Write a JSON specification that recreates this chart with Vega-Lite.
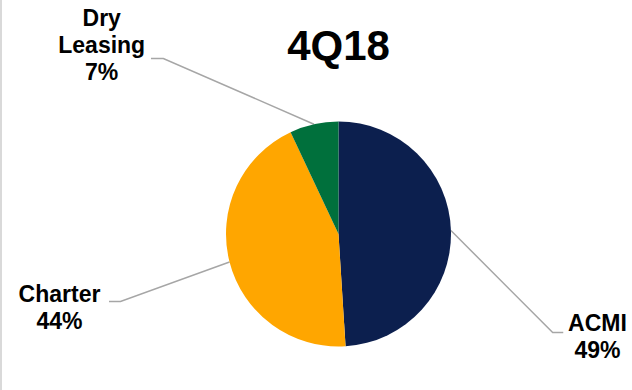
{
  "$schema": "https://vega.github.io/schema/vega-lite/v6.json",
  "autosize": {"type": "none"},
  "width": 587,
  "height": 312,
  "padding": {"left": 45, "top": 78, "right": 0, "bottom": 0},
  "background": "white",
  "config": {"view": {"stroke": null}, "font": "Liberation Sans"},
  "datasets": {
    "shares": [
      {"segment": "ACMI", "share": 49, "label": "ACMI\n49%", "lx": 2.302, "ly": -0.864},
      {"segment": "Charter", "share": 44, "label": "Charter\n44%", "lx": -2.48, "ly": -0.607},
      {"segment": "Dry Leasing", "share": 7, "label": "Dry\nLeasing\n7%", "lx": -2.105, "ly": 1.846}
    ],
    "leaders": [
      {"segment": "ACMI", "step": 1, "x": 0.9995, "y": 0.031},
      {"segment": "ACMI", "step": 2, "x": 1.904, "y": -0.876},
      {"segment": "ACMI", "step": 3, "x": 1.998, "y": -0.876},
      {"segment": "Charter", "step": 1, "x": -0.9686, "y": -0.2487},
      {"segment": "Charter", "step": 2, "x": -1.938, "y": -0.6},
      {"segment": "Charter", "step": 3, "x": -2.04, "y": -0.6},
      {"segment": "Dry Leasing", "step": 1, "x": -0.218, "y": 0.976},
      {"segment": "Dry Leasing", "step": 2, "x": -1.557, "y": 1.56},
      {"segment": "Dry Leasing", "step": 3, "x": -1.667, "y": 1.56}
    ],
    "heading": [{"title": "4Q18"}]
  },
  "layer": [
    {
      "data": {"name": "leaders"},
      "mark": {"type": "line", "stroke": "#A6A6A6", "strokeWidth": 1.5},
      "encoding": {
        "x": {"field": "x", "type": "quantitative", "scale": {"domain": [-2.609, 2.609], "nice": false, "zero": false}, "axis": null},
        "y": {"field": "y", "type": "quantitative", "scale": {"domain": [-1.3867, 1.3867], "nice": false, "zero": false}, "axis": null},
        "detail": {"field": "segment", "type": "nominal"},
        "order": {"field": "step", "type": "quantitative"}
      }
    },
    {
      "data": {"name": "shares"},
      "mark": {"type": "arc", "outerRadius": 112.5},
      "encoding": {
        "theta": {"field": "share", "type": "quantitative", "stack": true},
        "color": {
          "field": "segment",
          "type": "nominal",
          "scale": {"domain": ["ACMI", "Charter", "Dry Leasing"], "range": ["#0C1F4E", "#FFA600", "#00703C"]},
          "legend": null
        },
        "order": {"field": "segment", "type": "nominal", "sort": "ascending"}
      }
    },
    {
      "data": {"name": "shares"},
      "mark": {"type": "text", "fontSize": 23, "fontWeight": "bold", "font": "Liberation Sans", "lineBreak": "\n", "lineHeight": 27, "align": "center", "baseline": "alphabetic", "color": "black"},
      "encoding": {
        "x": {"field": "lx", "type": "quantitative", "scale": {"domain": [-2.609, 2.609], "nice": false, "zero": false}, "axis": null},
        "y": {"field": "ly", "type": "quantitative", "scale": {"domain": [-1.3867, 1.3867], "nice": false, "zero": false}, "axis": null},
        "text": {"field": "label", "type": "nominal"}
      }
    },
    {
      "data": {"name": "heading"},
      "mark": {"type": "text", "fontSize": 42, "fontWeight": "bold", "font": "Liberation Sans", "align": "center", "baseline": "alphabetic", "color": "black"},
      "encoding": {
        "x": {"datum": 0, "type": "quantitative"},
        "y": {"datum": 1.547, "type": "quantitative"},
        "text": {"field": "title", "type": "nominal"}
      }
    },
    {
      "data": {"values": [{}]},
      "mark": {"type": "rule", "stroke": "#D9D9D9", "strokeWidth": 2},
      "encoding": {
        "x": {"datum": -3.0, "type": "quantitative"},
        "y": {"datum": 2.08, "type": "quantitative"},
        "y2": {"datum": -1.387}
      }
    }
  ]
}
